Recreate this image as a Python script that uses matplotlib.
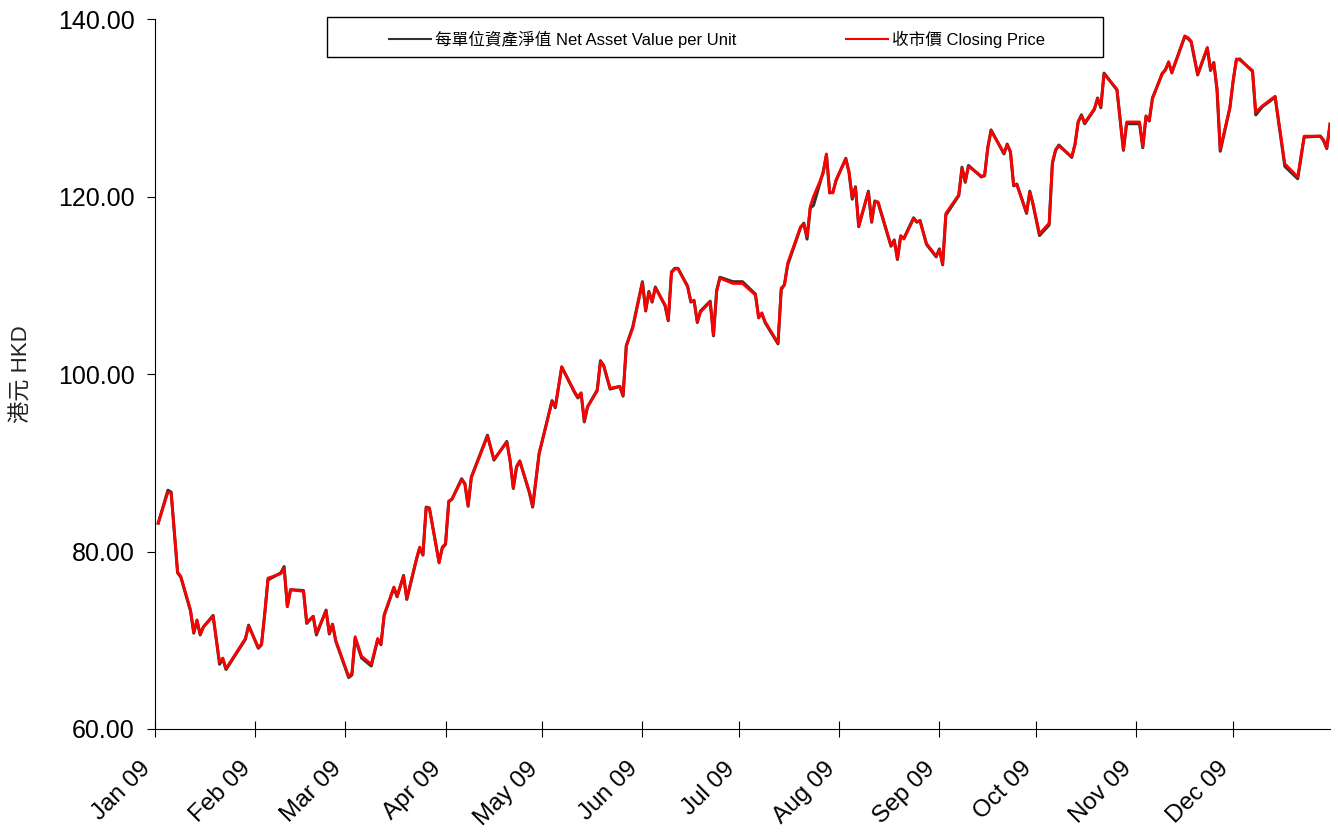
import pandas as pd
import matplotlib.pyplot as plt
import matplotlib.dates as mdates
from matplotlib.patches import Rectangle
from matplotlib.ticker import FormatStrFormatter

plt.rcParams['font.family'] = ['Liberation Sans', 'Noto Sans CJK TC', 'DejaVu Sans']

# trading days (2009)
days = [
    '01-02', '01-05', '01-06', '01-08', '01-09', '01-12', '01-13', '01-14', '01-15', '01-16',
    '01-19', '01-21', '01-22', '01-23', '01-29', '01-30',
    '02-02', '02-03', '02-04', '02-05', '02-09', '02-10', '02-11', '02-12', '02-16', '02-17',
    '02-19', '02-20', '02-23', '02-24', '02-25', '02-26',
    '03-02', '03-03', '03-04', '03-06', '03-09', '03-11', '03-12', '03-13', '03-16', '03-17',
    '03-19', '03-20', '03-23', '03-24', '03-25', '03-26', '03-27', '03-30', '03-31',
    '04-01', '04-02', '04-03', '04-06', '04-07', '04-08', '04-09', '04-14', '04-16', '04-20',
    '04-21', '04-22', '04-23', '04-24', '04-27', '04-28', '04-30',
    '05-04', '05-05', '05-07', '05-11', '05-12', '05-13', '05-14', '05-15', '05-18', '05-19',
    '05-20', '05-22', '05-25', '05-26', '05-27', '05-29',
    '06-01', '06-02', '06-03', '06-04', '06-05', '06-08', '06-09', '06-10', '06-11', '06-12',
    '06-15', '06-16', '06-17', '06-18', '06-19', '06-22', '06-23', '06-24', '06-25', '06-29',
    '07-02', '07-06', '07-07', '07-08', '07-09', '07-13', '07-14', '07-15', '07-16', '07-20',
    '07-21', '07-22', '07-23', '07-24', '07-27', '07-28', '07-29', '07-30', '07-31',
    '08-03', '08-04', '08-05', '08-06', '08-07', '08-10', '08-11', '08-12', '08-13', '08-17',
    '08-18', '08-19', '08-20', '08-21', '08-24', '08-25', '08-26', '08-28', '08-31',
    '09-01', '09-02', '09-03', '09-07', '09-08', '09-09', '09-10', '09-14', '09-15', '09-16',
    '09-17', '09-21', '09-22', '09-23', '09-24', '09-25', '09-28', '09-29', '09-30',
    '10-02', '10-05', '10-06', '10-07', '10-08', '10-12', '10-13', '10-14', '10-15', '10-16',
    '10-19', '10-20', '10-21', '10-22', '10-26', '10-28', '10-29',
    '11-02', '11-03', '11-04', '11-05', '11-06', '11-09', '11-10', '11-11', '11-12', '11-16',
    '11-17', '11-18', '11-20', '11-23', '11-24', '11-25', '11-26', '11-27', '11-30',
    '12-01', '12-02', '12-03', '12-07', '12-08', '12-10', '12-14', '12-17', '12-21', '12-23',
    '12-28', '12-29', '12-30', '12-31',
]

# closing price (HKD)
close = [
    83.2, 86.7, 86.6, 77.7, 77.2, 73.4, 70.9, 72.3, 70.7, 71.5,
    72.7, 67.5, 68.0, 66.8, 70.2, 71.6,
    69.2, 69.6, 73.0, 77.0, 77.5, 78.1, 73.8, 75.7, 75.5, 72.0,
    72.7, 70.8, 73.3, 70.8, 71.8, 70.0,
    65.9, 66.3, 70.4, 68.2, 67.3, 70.2, 69.6, 72.9, 76.0, 75.0,
    77.2, 74.7, 79.2, 80.5, 79.6, 84.9, 84.9, 78.7, 80.5,
    80.9, 85.7, 85.9, 88.1, 87.7, 85.2, 88.3, 93.0, 90.4, 92.3,
    90.3, 87.2, 89.6, 90.2, 86.7, 85.1, 91.1,
    96.9, 96.3, 100.8, 98.0, 97.4, 97.9, 94.7, 96.3, 98.1, 101.4,
    101.0, 98.4, 98.6, 97.6, 103.1, 105.2,
    110.3, 107.2, 109.2, 108.2, 109.7, 107.8, 106.1, 111.4, 111.8, 111.9,
    109.8, 108.2, 108.2, 105.9, 107.0, 108.1, 104.4, 109.3, 110.8, 110.2,
    110.2, 108.9, 106.3, 106.9, 105.9, 103.5, 109.7, 110.0, 112.5, 116.6,
    116.9, 115.5, 118.9, 120.0, 122.6, 124.8, 120.5, 120.4, 121.9,
    124.2, 122.8, 119.9, 121.0, 116.7, 120.5, 117.2, 119.4, 119.4, 114.5,
    115.0, 113.0, 115.6, 115.2, 117.5, 117.2, 117.2, 114.7, 113.3,
    114.0, 112.4, 118.1, 120.2, 123.2, 121.7, 123.4, 122.3, 122.3, 125.6,
    127.4, 124.9, 125.8, 125.1, 121.3, 121.3, 118.2, 120.5, 119.2,
    115.8, 117.0, 123.9, 125.3, 125.7, 124.5, 125.8, 128.5, 129.1, 128.3,
    129.9, 131.0, 130.1, 133.8, 132.1, 125.3, 128.4,
    128.4, 125.6, 129.1, 128.6, 131.0, 133.9, 134.2, 135.2, 133.9, 138.1,
    137.9, 137.5, 133.8, 136.8, 134.3, 135.0, 132.2, 125.3, 130.1,
    133.1, 135.5, 135.4, 134.2, 129.5, 130.2, 131.3, 123.7, 122.2, 126.8,
    126.8, 126.4, 125.5, 128.2,
]

# net asset value per unit (HKD)
nav = [
    83.2, 86.9, 86.7, 77.6, 77.1, 73.3, 70.8, 72.2, 70.6, 71.5,
    72.8, 67.3, 67.9, 66.7, 70.1, 71.7,
    69.1, 69.5, 73.0, 76.8, 77.6, 78.3, 73.8, 75.7, 75.6, 71.9,
    72.7, 70.6, 73.4, 70.7, 71.8, 69.9,
    65.8, 66.1, 70.2, 68.0, 67.1, 70.1, 69.5, 72.8, 75.9, 74.9,
    77.3, 74.6, 79.1, 80.4, 79.6, 85.0, 84.9, 78.8, 80.4,
    80.8, 85.6, 85.9, 88.2, 87.6, 85.1, 88.4, 93.1, 90.3, 92.4,
    90.2, 87.1, 89.5, 90.2, 86.6, 85.0, 91.0,
    97.0, 96.2, 100.8, 97.9, 97.3, 97.8, 94.6, 96.3, 98.2, 101.5,
    100.9, 98.3, 98.6, 97.5, 103.2, 105.3,
    110.4, 107.1, 109.3, 108.1, 109.8, 107.7, 106.0, 111.5, 111.9, 111.9,
    109.9, 108.1, 108.3, 105.8, 107.1, 108.2, 104.3, 109.4, 110.9, 110.4,
    110.4, 109.0, 106.4, 106.8, 105.8, 103.4, 109.5, 110.1, 112.3, 116.5,
    117.0, 115.2, 118.7, 119.0, 122.8, 124.7, 120.4, 120.5, 121.8,
    124.3, 122.7, 119.7, 121.1, 116.6, 120.6, 117.1, 119.5, 119.3, 114.4,
    115.1, 112.9, 115.5, 115.3, 117.6, 117.1, 117.3, 114.6, 113.2,
    114.1, 112.3, 117.9, 120.1, 123.3, 121.6, 123.5, 122.2, 122.4, 125.5,
    127.5, 124.8, 125.9, 125.0, 121.2, 121.4, 118.1, 120.6, 119.1,
    115.6, 116.8, 123.7, 125.2, 125.8, 124.4, 125.9, 128.4, 129.2, 128.2,
    129.8, 131.1, 130.0, 133.9, 132.0, 125.2, 128.2,
    128.2, 125.5, 129.0, 128.5, 131.1, 133.8, 134.3, 135.1, 134.0, 138.0,
    137.8, 137.4, 133.7, 136.7, 134.2, 135.1, 132.0, 125.1, 130.0,
    133.0, 135.4, 135.5, 134.1, 129.2, 130.1, 131.2, 123.4, 122.0, 126.7,
    126.8, 126.3, 125.4, 128.1,
]

y_ticks = [60, 80, 100, 120, 140]
nav_label = '每單位資產淨值 Net Asset Value per Unit'
close_label = '收市價 Closing Price'
y_label = '港元 HKD'

dates = pd.to_datetime(['2009-' + d for d in days])

fig = plt.figure(figsize=(13.38, 8.33), dpi=100)
ax = fig.add_axes([155 / 1338, 1 - 729 / 833, 1175 / 1338, 710 / 833])

ax.plot(dates, nav, color='#333333', linewidth=2.2, label=nav_label)
ax.plot(dates, close, color='#ff0000', linewidth=2.0, label=close_label)

ax.set_xlim(pd.Timestamp('2009-01-01'), pd.Timestamp('2009-12-31'))
ax.set_ylim(60, 140)
ax.set_yticks(y_ticks)
ax.yaxis.set_major_formatter(FormatStrFormatter('%.2f'))
ax.xaxis.set_major_locator(mdates.MonthLocator())
ax.xaxis.set_major_formatter(mdates.DateFormatter('%b %y'))

ax.spines['top'].set_visible(False)
ax.spines['right'].set_visible(False)
ax.tick_params(axis='x', direction='inout', length=11.5, width=0.8, pad=15, labelsize=17.5)
ax.tick_params(axis='y', direction='out', length=6, width=0.8, pad=8.5, labelsize=18)
plt.setp(ax.get_xticklabels(), rotation=45, ha='right')

ax.set_ylabel(y_label, fontsize=16, color='#222222')
ax.yaxis.set_label_coords(-0.104, 0.5)

# legend with a plain box above the plot
fig.patches.append(Rectangle((327 / 1338, 1 - 57 / 833), 776 / 1338, 40 / 833,
                             transform=fig.transFigure, fill=False,
                             edgecolor='black', linewidth=1.0))
leg = fig.legend(loc='center', bbox_to_anchor=(717 / 1338, 1 - 39 / 833), ncol=2,
                 frameon=False, fontsize=12, handlelength=2.5, handletextpad=0.25,
                 columnspacing=6.6)
for line in leg.get_lines():
    line.set_linewidth(1.5)

fig.savefig('out.png', dpi=100)
